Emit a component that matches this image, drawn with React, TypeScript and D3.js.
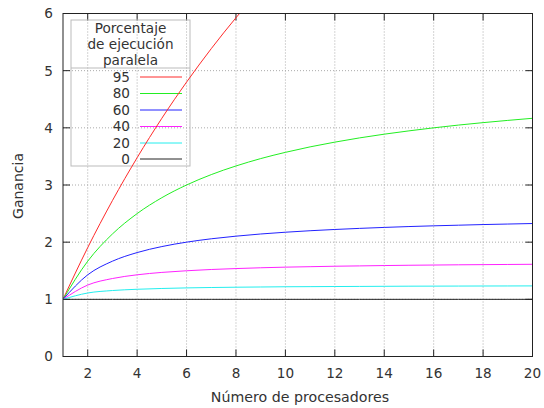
import React from "react";
import * as d3 from "d3";

const processors = [1, 2, 3, 4, 5, 6, 7, 8, 9, 10, 11, 12, 13, 14, 15, 16, 17, 18, 19, 20];
const s95 = [1, 1.905, 2.727, 3.478, 4.167, 4.8, 5.385, 5.926, 6.429];
const s80 = [1, 1.667, 2.143, 2.5, 2.778, 3.0, 3.182, 3.333, 3.462, 3.571, 3.667, 3.75, 3.824, 3.889, 3.947, 4.0, 4.048, 4.091, 4.13, 4.167];
const s60 = [1, 1.429, 1.667, 1.818, 1.923, 2.0, 2.059, 2.105, 2.143, 2.174, 2.2, 2.222, 2.241, 2.258, 2.273, 2.286, 2.297, 2.308, 2.317, 2.326];
const s40 = [1, 1.25, 1.364, 1.429, 1.471, 1.5, 1.522, 1.538, 1.552, 1.563, 1.571, 1.579, 1.585, 1.591, 1.596, 1.6, 1.604, 1.607, 1.61, 1.613];
const s20 = [1, 1.111, 1.154, 1.176, 1.19, 1.2, 1.207, 1.212, 1.216, 1.22, 1.222, 1.224, 1.226, 1.228, 1.23, 1.231, 1.232, 1.233, 1.234, 1.235];
const s0 = [1, 1, 1, 1, 1, 1, 1, 1, 1, 1, 1, 1, 1, 1, 1, 1, 1, 1, 1, 1];
const seriesLabels = ["95", "80", "60", "40", "20", "0"];
const seriesColors = ["#ff2a2a", "#22ee22", "#2222ff", "#ff22ff", "#22eeee", "#222222"];
const xTicks = [2, 4, 6, 8, 10, 12, 14, 16, 18, 20];
const yTicks = [0, 1, 2, 3, 4, 5, 6];
const legendTitle = ["Porcentaje", "de ejecución", "paralela"];

const W = 544, H = 408;
const L = 63, R = 532.5, T = 13.5, B = 356.5;
const FONT = "DejaVu Sans, sans-serif";
const FS = 13.6;

export default function App() {
  const x = d3.scaleLinear().domain([1, 20]).range([L, R]);
  const y = d3.scaleLinear().domain([0, 6]).range([B, T]);
  const series = [s95, s80, s60, s40, s20, s0];
  const line = d3
    .line<number>()
    .x((_, i) => x(processors[i]))
    .y((d) => y(d))
    .curve(d3.curveMonotoneX);
  const tickLen = 7;
  const legendY = [77, 93.5, 110, 126.5, 143, 159];
  return (
    <svg width={W} height={H} style={{ position: "absolute", left: 0, top: 0, background: "#fff" }} fontFamily={FONT}>
      <defs>
        <clipPath id="plot">
          <rect x={L} y={T} width={R - L} height={B - T} />
        </clipPath>
      </defs>
      <rect x={0} y={0} width={W} height={H} fill="#fff" />
      {xTicks.filter((t) => t < 20).map((t) => (
        <line key={"gx" + t} x1={x(t)} x2={x(t)} y1={T} y2={B} stroke="#aaa" strokeWidth={1} strokeDasharray="1,2" />
      ))}
      {yTicks.filter((t) => t > 0 && t < 6).map((t) => (
        <line key={"gy" + t} x1={L} x2={R} y1={y(t)} y2={y(t)} stroke="#aaa" strokeWidth={1} strokeDasharray="1,2" />
      ))}
      {xTicks.map((t) => (
        <g key={"tx" + t}>
          <line x1={x(t)} x2={x(t)} y1={B} y2={B - tickLen} stroke="#222" />
          <line x1={x(t)} x2={x(t)} y1={T} y2={T + tickLen} stroke="#222" />
          <text x={x(t)} y={378} fontSize={FS} textAnchor="middle" fill="#333">{t}</text>
        </g>
      ))}
      {yTicks.map((t) => (
        <g key={"ty" + t}>
          <line x1={L} x2={L + tickLen} y1={y(t)} y2={y(t)} stroke="#222" />
          <line x1={R} x2={R - tickLen} y1={y(t)} y2={y(t)} stroke="#222" />
          <text x={53} y={y(t)} dy="0.36em" fontSize={FS} textAnchor="end" fill="#333">{t}</text>
        </g>
      ))}
      <rect x={71} y={20} width={119} height={146} fill="none" stroke="#bbb" />
      <line x1={71} x2={190} y1={68} y2={68} stroke="#bbb" />
      {legendTitle.map((s, i) => (
        <text key={s} x={130.5} y={33 + i * 16} fontSize={FS} textAnchor="middle" fill="#333">{s}</text>
      ))}
      {seriesLabels.map((s, i) => (
        <g key={"lg" + s}>
          <text x={130} y={legendY[i]} dy="0.36em" fontSize={FS} textAnchor="end" fill="#333">{s}</text>
          <line x1={140} x2={182} y1={legendY[i]} y2={legendY[i]} stroke={seriesColors[i]} strokeWidth={1} />
        </g>
      ))}
      <g clipPath="url(#plot)">
        {series.map((s, i) => (
          <path key={"s" + i} d={line(s) || ""} fill="none" stroke={seriesColors[i]} strokeWidth={1} />
        ))}
      </g>
      <rect x={L} y={T} width={R - L} height={B - T} fill="none" stroke="#222" strokeWidth={1} />
      <text x={300} y={402} fontSize={14.2} textAnchor="middle" fill="#333">Número de procesadores</text>
      <text transform="translate(23,186) rotate(-90)" fontSize={14} textAnchor="middle" fill="#333">Ganancia</text>
    </svg>
  );
}
